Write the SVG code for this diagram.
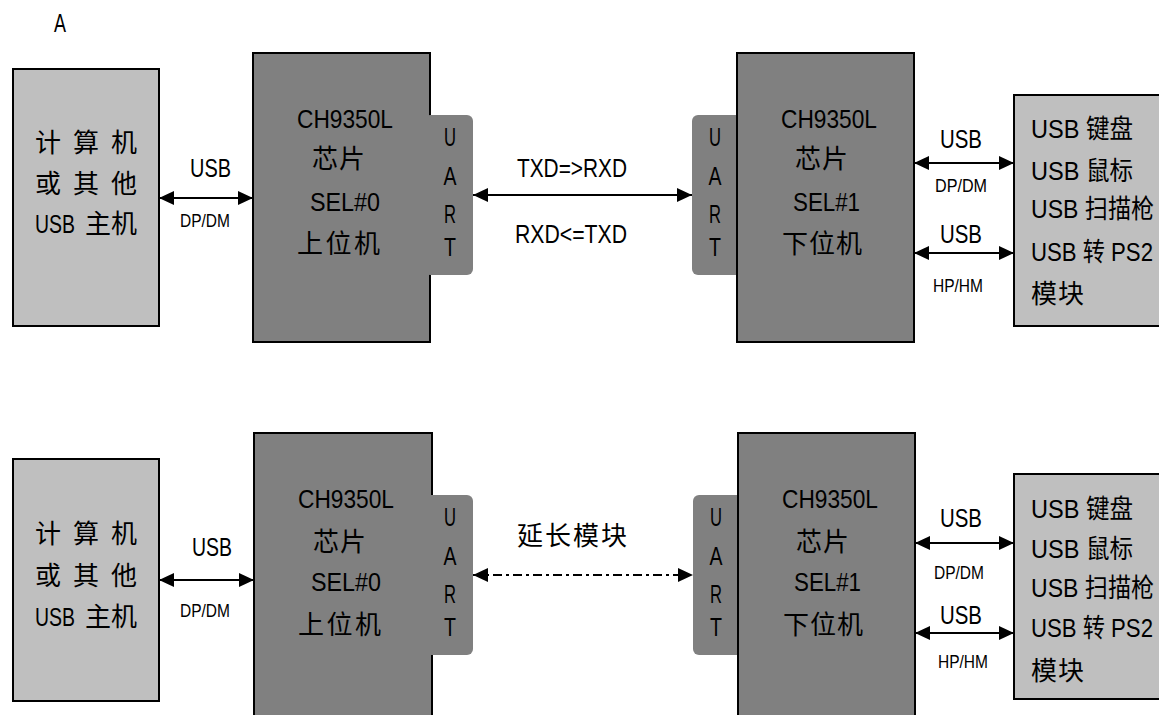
<svg xmlns="http://www.w3.org/2000/svg" width="1159" height="715" viewBox="0 0 1159 715">
<defs>
<style>
text{font-family:'Liberation Sans','Noto Sans CJK SC',sans-serif;fill:#000;font-size:26px}
.s{font-size:19px}
.u{font-size:25px;text-anchor:middle}
.host{fill:#bfbfbf;stroke:#000;stroke-width:2}
.chip{fill:#808080;stroke:#000;stroke-width:2}
.uart{fill:#808080}
.wire{stroke:#000;stroke-width:2;fill:none;marker-start:url(#ah);marker-end:url(#ah)}
.dash{stroke-dasharray:9 4 3 4}
</style>
<marker id="ah" markerUnits="userSpaceOnUse" markerWidth="15" markerHeight="14" refX="15" refY="7" orient="auto-start-reverse" viewBox="0 0 15 14"><path d="M0,0L15,7L0,14z" fill="#000"/></marker>
</defs>
<rect width="1159" height="715" fill="#fff"/>
<text x="54" y="32" font-size="25" textLength="12" lengthAdjust="spacingAndGlyphs">A</text>

<g id="connectors">
<line class="wire" x1="159" y1="198" x2="253" y2="198"/>
<line class="wire" x1="473" y1="195" x2="692" y2="195"/>
<line class="wire" x1="914" y1="163" x2="1014" y2="163"/>
<line class="wire" x1="914" y1="253" x2="1014" y2="253"/>
<line class="wire" x1="159" y1="580" x2="254" y2="580"/>
<line class="wire dash" x1="473" y1="575" x2="693" y2="575"/>
<line class="wire" x1="915" y1="543" x2="1014" y2="543"/>
<line class="wire" x1="915" y1="633" x2="1014" y2="633"/>
<text x="190" y="177" textLength="41" lengthAdjust="spacingAndGlyphs">USB</text>
<text class="s" x="180" y="227" textLength="50" lengthAdjust="spacingAndGlyphs">DP/DM</text>
<text x="517" y="177" textLength="110" lengthAdjust="spacingAndGlyphs">TXD=&gt;RXD</text>
<text x="515" y="243" textLength="112" lengthAdjust="spacingAndGlyphs">RXD&lt;=TXD</text>
<text x="940" y="148" textLength="42" lengthAdjust="spacingAndGlyphs">USB</text>
<text class="s" x="935" y="192" textLength="52" lengthAdjust="spacingAndGlyphs">DP/DM</text>
<text x="940" y="243" textLength="42" lengthAdjust="spacingAndGlyphs">USB</text>
<text class="s" x="933" y="292" textLength="50" lengthAdjust="spacingAndGlyphs">HP/HM</text>
<text x="192" y="556" textLength="40" lengthAdjust="spacingAndGlyphs">USB</text>
<text class="s" x="180" y="617" textLength="50" lengthAdjust="spacingAndGlyphs">DP/DM</text>
<text x="517" y="545" textLength="110">延长模块</text>
<text x="940" y="527" textLength="42" lengthAdjust="spacingAndGlyphs">USB</text>
<text class="s" x="934" y="579" textLength="50" lengthAdjust="spacingAndGlyphs">DP/DM</text>
<text x="940" y="624" textLength="42" lengthAdjust="spacingAndGlyphs">USB</text>
<text class="s" x="938" y="668" textLength="50" lengthAdjust="spacingAndGlyphs">HP/HM</text>
</g>

<g id="host1">
<rect class="host" x="13" y="69" width="146" height="257"/>
<text x="35" y="152" textLength="102">计 算 机</text>
<text x="35" y="193" textLength="102">或 其 他</text>
<text x="35" y="233"><tspan textLength="40" lengthAdjust="spacingAndGlyphs">USB</tspan> <tspan x="85" textLength="52">主机</tspan></text>
</g>

<g id="chip1">
<rect class="chip" x="253" y="53" width="177" height="289"/>
<text x="297" y="128" textLength="96" lengthAdjust="spacingAndGlyphs">CH9350L</text>
<text x="312" y="168" textLength="53">芯片</text>
<text x="310" y="211" textLength="70" lengthAdjust="spacingAndGlyphs">SEL#0</text>
<text x="297" y="253" textLength="83">上位机</text>
</g>

<g id="uart1">
<rect class="uart" x="424" y="115" width="49" height="160" rx="6"/>
<text class="u" x="450" y="146" textLength="12" lengthAdjust="spacingAndGlyphs">U</text>
<text class="u" x="450" y="185" textLength="13" lengthAdjust="spacingAndGlyphs">A</text>
<text class="u" x="450" y="223" textLength="12" lengthAdjust="spacingAndGlyphs">R</text>
<text class="u" x="450" y="256" textLength="12" lengthAdjust="spacingAndGlyphs">T</text>
</g>

<g id="uart2">
<rect class="uart" x="692" y="115" width="50" height="160" rx="6"/>
<text class="u" x="715" y="146" textLength="12" lengthAdjust="spacingAndGlyphs">U</text>
<text class="u" x="715" y="185" textLength="13" lengthAdjust="spacingAndGlyphs">A</text>
<text class="u" x="715" y="223" textLength="12" lengthAdjust="spacingAndGlyphs">R</text>
<text class="u" x="715" y="256" textLength="12" lengthAdjust="spacingAndGlyphs">T</text>
</g>

<g id="chip2">
<rect class="chip" x="737" y="53" width="177" height="289"/>
<text x="781" y="128" textLength="96" lengthAdjust="spacingAndGlyphs">CH9350L</text>
<text x="795" y="168" textLength="53">芯片</text>
<text x="793" y="211" textLength="67" lengthAdjust="spacingAndGlyphs">SEL#1</text>
<text x="782" y="253" textLength="80">下位机</text>
</g>

<g id="device1">
<rect class="host" x="1014" y="95" width="160" height="231"/>
<text x="1031" y="138" textLength="102" lengthAdjust="spacingAndGlyphs">USB 键盘</text>
<text x="1031" y="180" textLength="102" lengthAdjust="spacingAndGlyphs">USB 鼠标</text>
<text x="1031" y="218" textLength="123" lengthAdjust="spacingAndGlyphs">USB 扫描枪</text>
<text x="1031" y="261" textLength="122" lengthAdjust="spacingAndGlyphs">USB 转 PS2</text>
<text x="1031" y="303" textLength="53">模块</text>
</g>

<g id="host2">
<rect class="host" x="13" y="459" width="146" height="242"/>
<text x="35" y="543" textLength="102">计 算 机</text>
<text x="35" y="585" textLength="102">或 其 他</text>
<text x="35" y="626"><tspan textLength="40" lengthAdjust="spacingAndGlyphs">USB</tspan> <tspan x="85" textLength="52">主机</tspan></text>
</g>

<g id="chip3">
<rect class="chip" x="254" y="433" width="178" height="300"/>
<text x="298" y="508" textLength="96" lengthAdjust="spacingAndGlyphs">CH9350L</text>
<text x="313" y="551" textLength="53">芯片</text>
<text x="311" y="591" textLength="70" lengthAdjust="spacingAndGlyphs">SEL#0</text>
<text x="298" y="634" textLength="83">上位机</text>
</g>

<g id="uart3">
<rect class="uart" x="424" y="495" width="49" height="160" rx="6"/>
<text class="u" x="450" y="526" textLength="12" lengthAdjust="spacingAndGlyphs">U</text>
<text class="u" x="450" y="565" textLength="13" lengthAdjust="spacingAndGlyphs">A</text>
<text class="u" x="450" y="603" textLength="12" lengthAdjust="spacingAndGlyphs">R</text>
<text class="u" x="450" y="636" textLength="12" lengthAdjust="spacingAndGlyphs">T</text>
</g>

<g id="uart4">
<rect class="uart" x="693" y="495" width="50" height="160" rx="6"/>
<text class="u" x="716" y="526" textLength="12" lengthAdjust="spacingAndGlyphs">U</text>
<text class="u" x="716" y="565" textLength="13" lengthAdjust="spacingAndGlyphs">A</text>
<text class="u" x="716" y="603" textLength="12" lengthAdjust="spacingAndGlyphs">R</text>
<text class="u" x="716" y="636" textLength="12" lengthAdjust="spacingAndGlyphs">T</text>
</g>

<g id="chip4">
<rect class="chip" x="738" y="433" width="177" height="300"/>
<text x="782" y="508" textLength="96" lengthAdjust="spacingAndGlyphs">CH9350L</text>
<text x="796" y="551" textLength="53">芯片</text>
<text x="794" y="591" textLength="67" lengthAdjust="spacingAndGlyphs">SEL#1</text>
<text x="783" y="634" textLength="80">下位机</text>
</g>

<g id="device2">
<rect class="host" x="1014" y="474" width="160" height="225"/>
<text x="1031" y="518" textLength="102" lengthAdjust="spacingAndGlyphs">USB 键盘</text>
<text x="1031" y="558" textLength="102" lengthAdjust="spacingAndGlyphs">USB 鼠标</text>
<text x="1031" y="597" textLength="123" lengthAdjust="spacingAndGlyphs">USB 扫描枪</text>
<text x="1031" y="637" textLength="122" lengthAdjust="spacingAndGlyphs">USB 转 PS2</text>
<text x="1031" y="680" textLength="53">模块</text>
</g>
</svg>
